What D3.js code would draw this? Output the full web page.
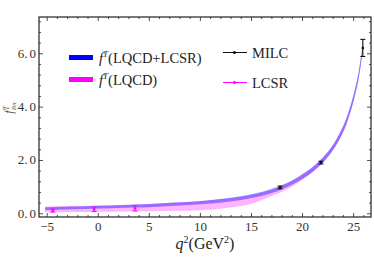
<!DOCTYPE html>
<html>
<head>
<meta charset="utf-8">
<script src="https://d3js.org/d3.v7.min.js"></script>
<style>
  body { margin: 0; background: #fff; }
</style>
</head>
<body>
<div id="chart"></div>
<script>
// form factor bands
var q2 = [-5.2, -2.5, 0, 2.5, 5, 7.5, 10, 12.5, 15, 17, 18, 19, 20, 21, 22, 23, 24, 24.5, 25, 25.5, 25.9]
var center = [0.19, 0.22, 0.25, 0.28, 0.31, 0.36, 0.42, 0.51, 0.66, 0.86, 1.0, 1.18, 1.40, 1.67, 2.02, 2.5, 3.2, 3.7, 4.35, 5.2, 6.25]
var blueHalf = [0.05, 0.05, 0.05, 0.05, 0.06, 0.06, 0.06, 0.07, 0.07, 0.08, 0.08, 0.08, 0.09, 0.09, 0.1, 0.1, 0.12, 0.12, 0.13, 0.14, 0.15]
var magLow = [0.06, 0.07, 0.08, 0.09, 0.1, 0.11, 0.13, 0.22, 0.38, 0.68, 0.83, 1.02, 1.28, 1.56, 1.93, 2.4, 3.1, 3.6, 4.25, 5.1, 6.15]
var magHigh = [0.27, 0.29, 0.31, 0.34, 0.37, 0.42, 0.47, 0.56, 0.71, 0.9, 1.05, 1.23, 1.46, 1.74, 2.1, 2.58, 3.3, 3.8, 4.45, 5.3, 6.35]

// data points
var milcQ2 = [17.8, 21.8, 25.9]
var milcVal = [0.99, 1.92, 6.22]
var milcErr = [0.05, 0.05, 0.32]
var lcsrQ2 = [-4.45, -0.4, 3.6]
var lcsrVal = [0.12, 0.17, 0.21]
var lcsrErr = [0.055, 0.08, 0.1]

var xTicks = [-5, 0, 5, 10, 15, 20, 25]
var yTicks = [0, 2, 4, 6]
var yTickLabels = ["0.0", "2.0", "4.0", "6.0"]

var W = 374, H = 259
var pL = 39, pR = 371, pT = 17, pB = 217
var FONT = "Liberation Serif, Times New Roman, serif"

var svg = d3.select("#chart").append("svg")
    .attr("width", W)
    .attr("height", H)

var x = d3.scaleLinear().domain([-5.8, 26.7]).range([pL, pR])
var y = d3.scaleLinear().domain([-0.12, 7.38]).range([pB, pT])

svg.append("clipPath").attr("id", "clip")
  .append("rect").attr("x", pL).attr("y", pT).attr("width", pR - pL).attr("height", pB - pT)

var plot = svg.append("g").attr("clip-path", "url(#clip)")

var idx = d3.range(q2.length)

// magenta band (LQCD)
var magArea = d3.area()
    .x(function(i) { return x(q2[i]) })
    .y0(function(i) { return y(magLow[i]) })
    .y1(function(i) { return y(magHigh[i]) })
    .curve(d3.curveCatmullRom)
plot.append("path").datum(idx)
    .attr("d", magArea)
    .attr("fill", "#ff00ff")
    .attr("fill-opacity", 0.3)

// blue band (LQCD+LCSR)
var blueArea = d3.area()
    .x(function(i) { return x(q2[i]) })
    .y0(function(i) { return y(center[i] - blueHalf[i]) })
    .y1(function(i) { return y(center[i] + blueHalf[i]) })
    .curve(d3.curveCatmullRom)
plot.append("path").datum(idx)
    .attr("d", blueArea)
    .attr("fill", "#0000ff")
    .attr("fill-opacity", 0.4)

// error bars
function errBars(qs, vals, errs, color) {
    var g = plot.append("g").attr("stroke", color).attr("stroke-width", 1.1)
    qs.forEach(function(q, i) {
        var cx = x(q)
        var y0 = y(vals[i] - errs[i]), y1 = y(vals[i] + errs[i])
        g.append("line").attr("x1", cx).attr("x2", cx).attr("y1", y0).attr("y2", y1)
        g.append("line").attr("x1", cx - 2.5).attr("x2", cx + 2.5).attr("y1", y0).attr("y2", y0)
        g.append("line").attr("x1", cx - 2.5).attr("x2", cx + 2.5).attr("y1", y1).attr("y2", y1)
        plot.append("circle").attr("cx", cx).attr("cy", y(vals[i])).attr("r", 1.3).attr("fill", color)
    })
}
errBars(lcsrQ2, lcsrVal, lcsrErr, "#ff00ff")
errBars(milcQ2, milcVal, milcErr, "#111")

// frame
svg.append("rect")
    .attr("x", pL).attr("y", pT)
    .attr("width", pR - pL).attr("height", pB - pT)
    .attr("fill", "none").attr("stroke", "#222").attr("stroke-width", 1.2)

// ticks on all sides, pointing inward
var xMinor = d3.range(-5, 27, 1)
var yMinor = d3.range(0, 7.3, 0.4)
var tk = svg.append("g").attr("stroke", "#222").attr("stroke-width", 0.8)
xMinor.forEach(function(v) {
    var major = xTicks.indexOf(v) >= 0
    var len = major ? 4 : 2
    tk.append("line").attr("x1", x(v)).attr("x2", x(v)).attr("y1", pB).attr("y2", pB - len)
    tk.append("line").attr("x1", x(v)).attr("x2", x(v)).attr("y1", pT).attr("y2", pT + len)
})
yMinor.forEach(function(v) {
    var major = Math.abs(v / 2 - Math.round(v / 2)) < 1e-6
    var len = major ? 4 : 2
    tk.append("line").attr("x1", pL).attr("x2", pL + len).attr("y1", y(v)).attr("y2", y(v))
    tk.append("line").attr("x1", pR).attr("x2", pR - len).attr("y1", y(v)).attr("y2", y(v))
})

// tick labels
svg.selectAll(".xl").data(xTicks).enter().append("text")
    .attr("x", function(d) { return x(d) })
    .attr("y", 231)
    .attr("text-anchor", "middle")
    .attr("fill", "#333")
    .attr("font-family", FONT)
    .attr("font-size", 13)
    .text(function(d) { return d < 0 ? "\u2212" + (-d) : d })

var yl = svg.selectAll(".yl").data(yTicks).enter().append("text")
    .attr("x", pL - 3)
    .attr("y", function(d) { return y(d) + 4 })
    .attr("text-anchor", "end")
    .attr("fill", "#333")
    .attr("font-family", FONT)
    .attr("font-size", 13)
yl.append("tspan").text(function(d, i) { return yTickLabels[i].split(".")[0] + "." })
yl.append("tspan").attr("dx", 2).text(function(d, i) { return yTickLabels[i].split(".")[1] })

// axis titles
var xt = svg.append("text")
    .attr("x", 205).attr("y", 249)
    .attr("text-anchor", "middle")
    .attr("fill", "#222")
    .attr("font-family", FONT)
    .attr("font-size", 16)
xt.append("tspan").style("font-style", "italic").text("q")
xt.append("tspan").attr("dy", -6).attr("font-size", 10).text("2")
xt.append("tspan").attr("dy", 6).text("(GeV")
xt.append("tspan").attr("dy", -6).attr("font-size", 10).text("2")
xt.append("tspan").attr("dy", 6).text(")")

var yt = svg.append("text")
    .attr("transform", "translate(13,108) rotate(-90)")
    .attr("text-anchor", "middle")
    .attr("fill", "#555")
    .attr("font-family", FONT)
    .attr("font-size", 12)
yt.append("tspan").style("font-style", "italic").text("f")
yt.append("tspan").attr("dy", -4).attr("font-size", 7.5).style("font-style", "italic").text("T")
yt.append("tspan").attr("dx", -4).attr("dy", 7).attr("font-size", 7).style("font-style", "italic").text("B\u03c0")

// legend: bands
var bandLegend = [
    { color: "#0000ff", label: "LQCD+LCSR", y: 57.5 },
    { color: "#ff00ff", label: "LQCD", y: 79.5 }
]
bandLegend.forEach(function(d) {
    svg.append("rect").attr("x", 69).attr("y", d.y - 2.5).attr("width", 24).attr("height", 5).attr("fill", d.color)
    var t = svg.append("text").attr("x", 99).attr("y", d.y + 5).attr("fill", "#222")
        .attr("font-family", FONT).attr("font-size", 14.5)
    t.append("tspan").style("font-style", "italic").text("f")
    t.append("tspan").attr("dy", -6).attr("font-size", 9).style("font-style", "italic").text("T")
    t.append("tspan").attr("dy", 6).text("(" + d.label + ")")
})

// legend: points
var pointLegend = [
    { color: "#111", label: "MILC", y: 52.5 },
    { color: "#ff00ff", label: "LCSR", y: 82.5 }
]
pointLegend.forEach(function(d) {
    svg.append("line").attr("x1", 223).attr("x2", 247).attr("y1", d.y).attr("y2", d.y)
        .attr("stroke", d.color).attr("stroke-width", 1)
    svg.append("circle").attr("cx", 234.5).attr("cy", d.y).attr("r", 1.6).attr("fill", d.color)
    svg.append("text").attr("x", 252).attr("y", d.y + 5).attr("fill", "#222")
        .attr("font-family", FONT).attr("font-size", 14.5).text(d.label)
})
</script>
</body>
</html>
